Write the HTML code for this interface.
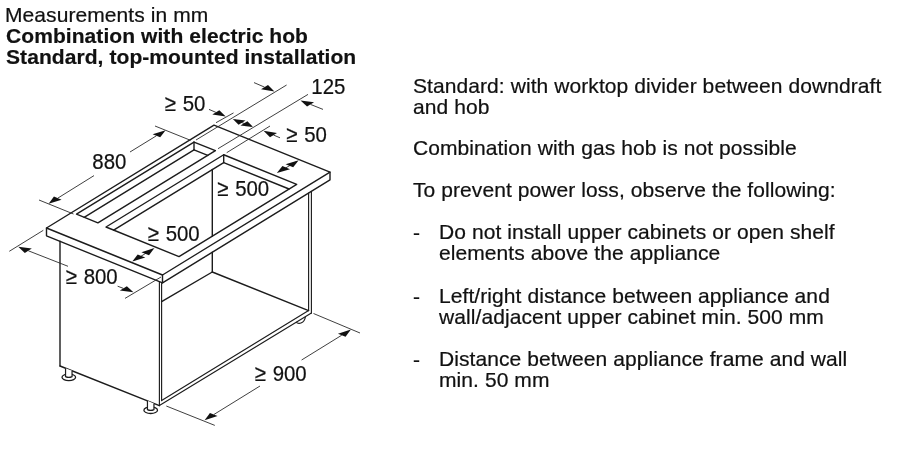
<!DOCTYPE html>
<html lang="en">
<head>
<meta charset="utf-8">
<title>Combination with electric hob – installation measurements</title>
<style>
html,body{margin:0;padding:0;background:#fff;}
body{width:900px;height:450px;position:relative;overflow:hidden;font-family:"Liberation Sans",Arial,sans-serif;color:#111;}
.t{position:absolute;white-space:nowrap;font-size:21px;line-height:21px;letter-spacing:0.08px;will-change:transform;-webkit-text-stroke:0.22px #111;}
.b{font-weight:bold;letter-spacing:0.075px;-webkit-text-stroke:0.2px #111;}
</style>
</head>
<body>
<svg width="900" height="450" viewBox="0 0 900 450" style="position:absolute;left:0;top:0;will-change:transform" font-family="'Liberation Sans', Arial, sans-serif" fill="#111">
<path d="M46.50 228.00 L214.00 125.16 L330.00 172.13 L162.50 274.98 Z" fill="none" stroke="#1c1c1c" stroke-width="1.4" stroke-linejoin="round" stroke-linecap="round"/>
<path d="M46.50 228.00 L46.50 235.80 L162.50 282.78 L330.00 179.94 L330.00 172.13" fill="none" stroke="#1c1c1c" stroke-width="1.4" stroke-linejoin="round" stroke-linecap="round"/>
<line x1="162.50" y1="274.98" x2="162.50" y2="282.78" stroke="#1c1c1c" stroke-width="1.4" stroke-linecap="round"/>
<path d="M76.50 214.20 L194.00 142.06 L215.40 150.72 L97.90 222.87 Z" fill="none" stroke="#1c1c1c" stroke-width="1.4" stroke-linejoin="round" stroke-linecap="round"/>
<line x1="84.15" y1="217.30" x2="194.00" y2="149.86" stroke="#1c1c1c" stroke-width="1.4" stroke-linecap="round"/>
<line x1="194.00" y1="142.06" x2="194.00" y2="149.86" stroke="#1c1c1c" stroke-width="1.4" stroke-linecap="round"/>
<line x1="194.00" y1="149.86" x2="207.75" y2="155.42" stroke="#1c1c1c" stroke-width="1.4" stroke-linecap="round"/>
<path d="M106.00 227.00 L223.70 154.73 L296.70 184.30 L179.00 256.56 Z" fill="none" stroke="#1c1c1c" stroke-width="1.4" stroke-linejoin="round" stroke-linecap="round"/>
<line x1="113.65" y1="230.10" x2="223.70" y2="162.53" stroke="#1c1c1c" stroke-width="1.4" stroke-linecap="round"/>
<line x1="223.70" y1="154.73" x2="223.70" y2="162.53" stroke="#1c1c1c" stroke-width="1.4" stroke-linecap="round"/>
<line x1="223.70" y1="162.53" x2="289.05" y2="189.00" stroke="#1c1c1c" stroke-width="1.4" stroke-linecap="round"/>
<line x1="212.30" y1="169.53" x2="212.30" y2="236.12" stroke="#1c1c1c" stroke-width="1.4" stroke-linecap="round"/>
<line x1="60.00" y1="241.27" x2="60.00" y2="366.00" stroke="#1c1c1c" stroke-width="1.4" stroke-linecap="round"/>
<line x1="60.00" y1="366.00" x2="159.40" y2="405.60" stroke="#1c1c1c" stroke-width="1.4" stroke-linecap="round"/>
<line x1="159.40" y1="281.52" x2="159.40" y2="405.60" stroke="#1c1c1c" stroke-width="1.15" stroke-linecap="round"/>
<line x1="161.60" y1="283.33" x2="161.60" y2="400.60" stroke="#1c1c1c" stroke-width="1.15" stroke-linecap="round"/>
<line x1="311.40" y1="191.36" x2="311.40" y2="313.10" stroke="#1c1c1c" stroke-width="1.15" stroke-linecap="round"/>
<line x1="308.60" y1="193.07" x2="308.60" y2="310.60" stroke="#1c1c1c" stroke-width="1.15" stroke-linecap="round"/>
<line x1="159.40" y1="405.60" x2="311.40" y2="313.10" stroke="#1c1c1c" stroke-width="1.15" stroke-linecap="round"/>
<line x1="161.60" y1="400.60" x2="308.60" y2="310.60" stroke="#1c1c1c" stroke-width="1.15" stroke-linecap="round"/>
<line x1="212.30" y1="252.20" x2="212.30" y2="272.00" stroke="#1c1c1c" stroke-width="1.4" stroke-linecap="round"/>
<line x1="212.30" y1="272.00" x2="308.60" y2="310.60" stroke="#1c1c1c" stroke-width="1.4" stroke-linecap="round"/>
<line x1="212.30" y1="272.00" x2="161.60" y2="301.66" stroke="#1c1c1c" stroke-width="1.4" stroke-linecap="round"/>
<ellipse cx="68.8" cy="377.3" rx="6.8" ry="3.3" fill="#fff" stroke="#1c1c1c" stroke-width="1.3"/>
<path d="M65.55 368.19114688128775 L65.55 376.6 Q68.8 378.20000000000005 72.05 376.6 L72.05 370.78068410462777 Z" fill="#fff" stroke="none"/>
<path d="M65.55 368.19114688128775 L65.55 376.6 Q68.8 378.20000000000005 72.05 376.6 L72.05 370.78068410462777" fill="none" stroke="#1c1c1c" stroke-width="1.2"/>
<ellipse cx="150.7" cy="410.2" rx="6.8" ry="3.3" fill="#fff" stroke="#1c1c1c" stroke-width="1.3"/>
<path d="M147.45 400.85915492957747 L147.45 409.6 Q150.7 411.20000000000005 153.95 409.6 L153.95 403.44869215291754 Z" fill="#fff" stroke="none"/>
<path d="M147.45 400.85915492957747 L147.45 409.6 Q150.7 411.20000000000005 153.95 409.6 L153.95 403.44869215291754" fill="none" stroke="#1c1c1c" stroke-width="1.2"/>
<path d="M296.4 321.9 C297.4 324.8 304.6 323.6 305.3 317.0" fill="none" stroke="#1c1c1c" stroke-width="1.2"/>
<line x1="155.00" y1="126.00" x2="190.50" y2="140.30" stroke="#2a2a2a" stroke-width="0.9" stroke-linecap="butt"/>
<line x1="39.00" y1="200.00" x2="73.50" y2="214.00" stroke="#2a2a2a" stroke-width="0.9" stroke-linecap="butt"/>
<line x1="130.00" y1="152.00" x2="156.42" y2="135.79" stroke="#2a2a2a" stroke-width="0.9" stroke-linecap="butt"/>
<path d="M165.63 130.14 L160.22 137.33 L152.62 134.25 Z" fill="#111" stroke="none"/>
<line x1="94.00" y1="175.60" x2="57.75" y2="198.16" stroke="#2a2a2a" stroke-width="0.9" stroke-linecap="butt"/>
<path d="M48.58 203.86 L61.55 199.70 L53.95 196.62 Z" fill="#111" stroke="none"/>
<text transform="translate(92.30 169.00) scale(0.972 1.09)" font-size="21" text-anchor="start" stroke="#111" stroke-width="0.2">880</text>
<line x1="216.00" y1="122.70" x2="233.50" y2="112.90" stroke="#2a2a2a" stroke-width="0.9" stroke-linecap="butt"/>
<line x1="196.00" y1="140.00" x2="286.60" y2="85.00" stroke="#2a2a2a" stroke-width="0.9" stroke-linecap="butt"/>
<line x1="218.00" y1="148.70" x2="308.00" y2="94.40" stroke="#2a2a2a" stroke-width="0.9" stroke-linecap="butt"/>
<line x1="226.70" y1="152.70" x2="270.00" y2="126.00" stroke="#2a2a2a" stroke-width="0.9" stroke-linecap="butt"/>
<line x1="209.00" y1="109.40" x2="215.84" y2="112.34" stroke="#2a2a2a" stroke-width="0.9" stroke-linecap="butt"/>
<path d="M225.76 116.60 L219.33 110.19 L212.34 114.48 Z" fill="#111" stroke="none"/>
<text transform="translate(164.80 111.00) scale(0.972 1.09)" font-size="21" text-anchor="start" stroke="#111" stroke-width="0.2">≥<tspan dx="1.0"> 50</tspan></text>
<line x1="235.00" y1="120.00" x2="251.00" y2="126.00" stroke="#2a2a2a" stroke-width="0.9" stroke-linecap="butt"/>
<path d="M232.83 119.12 L245.58 120.50 L238.59 124.80 Z" fill="#111" stroke="none"/>
<path d="M253.17 126.88 L247.41 121.20 L240.42 125.50 Z" fill="#111" stroke="none"/>
<line x1="280.00" y1="137.80" x2="273.48" y2="135.03" stroke="#2a2a2a" stroke-width="0.9" stroke-linecap="butt"/>
<path d="M263.54 130.80 L276.97 132.88 L269.99 137.17 Z" fill="#111" stroke="none"/>
<text transform="translate(286.30 141.80) scale(0.972 1.09)" font-size="21" text-anchor="start" stroke="#111" stroke-width="0.2">≥<tspan dx="1.0"> 50</tspan></text>
<line x1="254.00" y1="82.60" x2="264.54" y2="87.13" stroke="#2a2a2a" stroke-width="0.9" stroke-linecap="butt"/>
<path d="M274.46 91.40 L268.03 84.99 L261.04 89.28 Z" fill="#111" stroke="none"/>
<line x1="323.00" y1="109.40" x2="310.56" y2="104.43" stroke="#2a2a2a" stroke-width="0.9" stroke-linecap="butt"/>
<path d="M300.54 100.41 L314.06 102.28 L307.07 106.57 Z" fill="#111" stroke="none"/>
<text transform="translate(311.30 94.00) scale(0.972 1.09)" font-size="21" text-anchor="start" stroke="#111" stroke-width="0.2">125</text>
<line x1="279.00" y1="171.80" x2="296.60" y2="161.60" stroke="#2a2a2a" stroke-width="0.9" stroke-linecap="butt"/>
<path d="M276.87 173.05 L290.01 169.17 L282.41 166.09 Z" fill="#111" stroke="none"/>
<path d="M298.73 160.35 L293.19 167.31 L285.59 164.23 Z" fill="#111" stroke="none"/>
<text transform="translate(217.30 196.00) scale(0.972 1.09)" font-size="21" text-anchor="start" stroke="#111" stroke-width="0.2">≥<tspan dx="1.0"> 500</tspan></text>
<line x1="134.40" y1="260.30" x2="152.30" y2="249.30" stroke="#2a2a2a" stroke-width="0.9" stroke-linecap="butt"/>
<path d="M132.27 261.56 L145.29 257.47 L137.69 254.40 Z" fill="#111" stroke="none"/>
<path d="M154.43 248.04 L149.01 255.20 L141.41 252.13 Z" fill="#111" stroke="none"/>
<text transform="translate(147.80 240.70) scale(0.972 1.09)" font-size="21" text-anchor="start" stroke="#111" stroke-width="0.2">≥<tspan dx="1.0"> 500</tspan></text>
<line x1="43.30" y1="230.30" x2="9.30" y2="251.30" stroke="#2a2a2a" stroke-width="0.9" stroke-linecap="butt"/>
<line x1="161.00" y1="277.00" x2="125.00" y2="298.40" stroke="#2a2a2a" stroke-width="0.9" stroke-linecap="butt"/>
<line x1="68.00" y1="266.30" x2="28.29" y2="250.75" stroke="#2a2a2a" stroke-width="0.9" stroke-linecap="butt"/>
<path d="M18.23 246.82 L31.79 248.61 L24.80 252.90 Z" fill="#111" stroke="none"/>
<line x1="117.60" y1="286.20" x2="123.36" y2="288.37" stroke="#2a2a2a" stroke-width="0.9" stroke-linecap="butt"/>
<path d="M133.47 292.18 L126.85 286.22 L119.87 290.52 Z" fill="#111" stroke="none"/>
<text transform="translate(65.80 284.00) scale(0.972 1.09)" font-size="21" text-anchor="start" stroke="#111" stroke-width="0.2">≥<tspan dx="1.0"> 800</tspan></text>
<line x1="313.50" y1="313.50" x2="360.00" y2="333.00" stroke="#2a2a2a" stroke-width="0.9" stroke-linecap="butt"/>
<line x1="166.30" y1="406.00" x2="214.80" y2="425.40" stroke="#2a2a2a" stroke-width="0.9" stroke-linecap="butt"/>
<line x1="301.60" y1="360.00" x2="341.74" y2="335.21" stroke="#2a2a2a" stroke-width="0.9" stroke-linecap="butt"/>
<path d="M350.93 329.54 L345.54 336.75 L337.94 333.67 Z" fill="#111" stroke="none"/>
<line x1="260.00" y1="386.00" x2="213.76" y2="414.58" stroke="#2a2a2a" stroke-width="0.9" stroke-linecap="butt"/>
<path d="M204.57 420.26 L217.56 416.12 L209.96 413.04 Z" fill="#111" stroke="none"/>
<text transform="translate(254.80 380.70) scale(0.972 1.09)" font-size="21" text-anchor="start" stroke="#111" stroke-width="0.2">≥<tspan dx="1.0"> 900</tspan></text>
</svg>
<div class="t" style="left:5.2px;top:4.00px">Measurements in mm</div>
<div class="t b" style="left:5.8px;top:25.00px">Combination with electric hob<br>Standard, top-mounted installation</div>
<div class="t" style="left:412.5px;top:75.00px">Standard: with worktop divider between downdraft<br>and hob</div>
<div class="t" style="left:412.5px;top:136.60px">Combination with gas hob is not possible</div>
<div class="t" style="left:412.5px;top:179.00px">To prevent power loss, observe the following:</div>
<div class="t" style="left:412.6px;top:222.00px">-</div>
<div class="t" style="left:438.9px;top:222.20px;line-height:20.6px">Do not install upper cabinets or open shelf<br>elements above the appliance</div>
<div class="t" style="left:412.6px;top:286.00px">-</div>
<div class="t" style="left:438.9px;top:285.00px">Left/right distance between appliance and<br>wall/adjacent upper cabinet min. 500 mm</div>
<div class="t" style="left:412.6px;top:349.00px">-</div>
<div class="t" style="left:438.9px;top:348.00px">Distance between appliance frame and wall<br>min. 50 mm</div>
</body>
</html>
